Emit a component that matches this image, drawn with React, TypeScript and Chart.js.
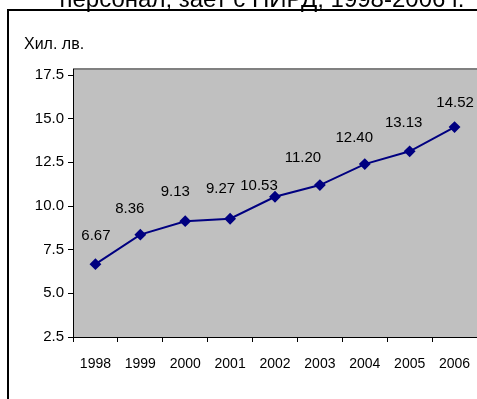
import React, { useEffect, useRef } from "react";
import { Chart, registerables } from "chart.js";

Chart.register(...registerables);

// Average annual salary of R&D personnel, thousand BGN
const years = ["1998", "1999", "2000", "2001", "2002", "2003", "2004", "2005", "2006"];
const salary = [6.67, 8.36, 9.13, 9.27, 10.53, 11.2, 12.4, 13.13, 14.52];
const yMin = 2.5;
const yMax = 17.5;
const yStep = 2.5;

// Hand-placed value label offsets (dx, dy) from each marker
const labelDx = [0.5, -10.5, -10, -9.5, -16, -17, -10.5, -6, 0.5];
const labelDy = [-28, -26, -29, -30, -11, -27, -26.5, -28, -24];

const titleText = "персонал, зает с НИРД, 1998-2006 г.";
const axisTitle = "Хил. лв.";
const FONT = '"Liberation Sans", Arial, sans-serif';

const framePlugin = {
  id: "frame",
  beforeDraw(chart: any) {
    const { ctx, chartArea } = chart;
    const { left, top, right, bottom } = chartArea;
    ctx.save();
    ctx.fillStyle = "#ffffff";
    ctx.fillRect(0, 0, chart.width, chart.height);

    // heading (its upper part runs off the top edge)
    ctx.fillStyle = "#000";
    ctx.font = `24px ${FONT}`;
    ctx.textAlign = "center";
    ctx.textBaseline = "alphabetic";
    ctx.fillText(titleText, 262, 7);

    // outer chart frame
    ctx.strokeStyle = "#000";
    ctx.lineWidth = 2;
    ctx.strokeRect(8, 10, 800, 800);

    // plot area
    const pTop = top - 6;
    ctx.fillStyle = "#C0C0C0";
    ctx.fillRect(left, pTop, right - left + 4, bottom - pTop);
    ctx.strokeStyle = "#808080";
    ctx.lineWidth = 2;
    ctx.beginPath();
    ctx.moveTo(left, pTop);
    ctx.lineTo(right + 4, pTop);
    ctx.stroke();
    ctx.strokeStyle = "#000";
    ctx.lineWidth = 1;
    ctx.beginPath();
    ctx.moveTo(left + 0.5, pTop);
    ctx.lineTo(left + 0.5, bottom);
    ctx.stroke();

    // unit caption
    ctx.fillStyle = "#000";
    ctx.font = `16px ${FONT}`;
    ctx.textAlign = "left";
    ctx.textBaseline = "middle";
    ctx.fillText(axisTitle, 24, 45);
    ctx.restore();
  },
  afterDatasetsDraw(chart: any) {
    const { ctx } = chart;
    const meta = chart.getDatasetMeta(0);
    ctx.save();
    ctx.fillStyle = "#000";
    ctx.font = `15px ${FONT}`;
    ctx.textAlign = "center";
    ctx.textBaseline = "middle";
    meta.data.forEach((pt: any, i: number) => {
      ctx.fillText(salary[i].toFixed(2), pt.x + labelDx[i], pt.y + labelDy[i]);
    });
    ctx.restore();
  },
};

export default function App() {
  const ref = useRef<HTMLCanvasElement>(null);

  useEffect(() => {
    if (!ref.current) return;
    const chart = new Chart(ref.current, {
      type: "line",
      data: {
        labels: years,
        datasets: [
          {
            data: salary,
            borderColor: "#000080",
            backgroundColor: "#000080",
            borderWidth: 2,
            pointStyle: "rectRot",
            pointRadius: 4.5,
            pointBackgroundColor: "#000080",
            pointBorderColor: "#000080",
            tension: 0,
          },
        ],
      },
      options: {
        responsive: false,
        animation: false,
        devicePixelRatio: 1,
        layout: { autoPadding: false, padding: { top: 75, left: 0, right: -1, bottom: 0 } },
        plugins: {
          legend: { display: false },
          tooltip: { enabled: false },
          title: { display: false },
        },
        scales: {
          x: {
            offset: true,
            grid: {
              offset: true,
              drawOnChartArea: false,
              drawTicks: true,
              tickLength: 5,
              color: "#000",
            },
            border: { display: true, color: "#000", width: 1 },
            ticks: {
              color: "#000",
              font: { family: FONT, size: 14 },
              padding: 14,
              maxRotation: 0,
              autoSkip: false,
            },
            afterFit: (s: any) => {
              s.height = 62;
              s.paddingLeft = 0;
              s.paddingRight = 0;
            },
          },
          y: {
            min: yMin,
            max: yMax,
            grid: {
              drawOnChartArea: false,
              drawTicks: true,
              tickLength: 5,
              color: "#000",
            },
            border: { display: false },
            ticks: {
              stepSize: yStep,
              color: "#000",
              font: { family: FONT, size: 15 },
              padding: 4,
              callback: (v: any) => Number(v).toFixed(1),
            },
            afterFit: (s: any) => {
              s.width = 73;
              s.paddingTop = 0;
              s.paddingBottom = 0;
            },
          },
        },
      },
      plugins: [framePlugin],
    });
    return () => chart.destroy();
  }, []);

  return (
    <div style={{ position: "fixed", left: 0, top: 0, width: 477, height: 399 }}>
      <canvas ref={ref} width={477} height={399} style={{ display: "block" }} />
    </div>
  );
}
